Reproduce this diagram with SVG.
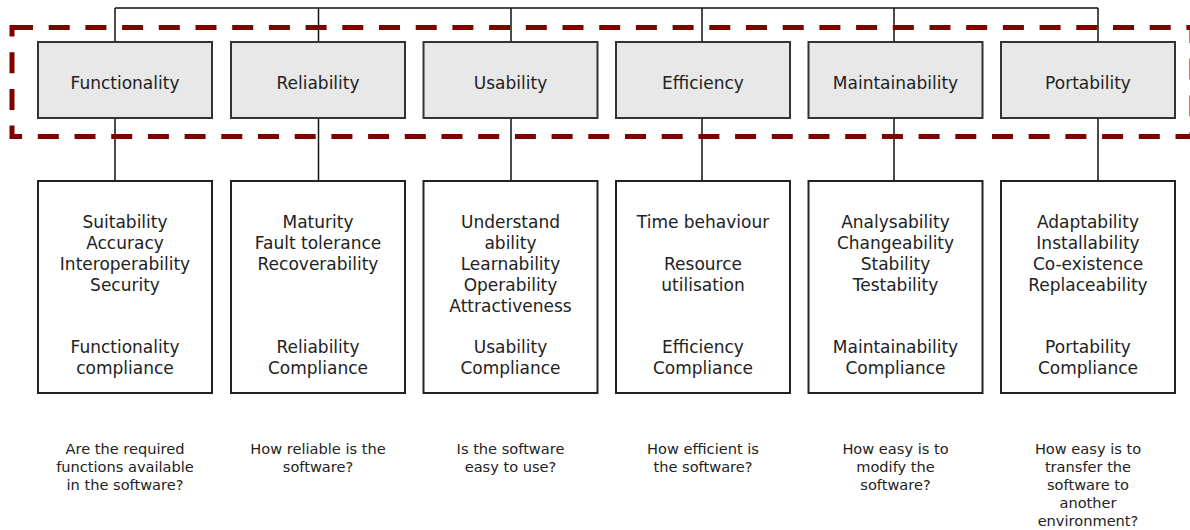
<svg xmlns="http://www.w3.org/2000/svg" width="1190" height="530" viewBox="0 0 1190 530">
<style>
.conn{stroke:#111;stroke-width:1.5;fill:none}
.top{fill:#e8e8e8;stroke:#333;stroke-width:2}
.box{fill:#fff;stroke:#222;stroke-width:2}
.t{font-family:"DejaVu Sans",Verdana,sans-serif;font-size:17px;fill:#222;text-anchor:middle}
.q{font-family:"DejaVu Sans",Verdana,sans-serif;font-size:14.6px;fill:#222;text-anchor:middle}
.dash{fill:none;stroke:#800000;stroke-width:5;stroke-dasharray:21 15.7}
</style>
<rect width="1190" height="530" fill="#fff"/>
<g id="connectors">
<path class="conn" d="M115,8H1098M115,8V181M318.5,8V181M511,8V181M702,8V181M894,8V181M1098,8V181"/>
</g>
<g id="functionality">
<rect class="top" x="38" y="42" width="174" height="76"/>
<text class="t" x="125" y="89">Functionality</text>
<rect class="box" x="38" y="181" width="174" height="212"/>
<text class="t" x="125" y="228">Suitability</text>
<text class="t" x="125" y="249">Accuracy</text>
<text class="t" x="125" y="270">Interoperability</text>
<text class="t" x="125" y="291">Security</text>
<text class="t" x="125" y="353">Functionality</text>
<text class="t" x="125" y="374">compliance</text>
<text class="q" x="125" y="454">Are the required</text>
<text class="q" x="125" y="472">functions available</text>
<text class="q" x="125" y="490">in the software?</text>
</g>
<g id="reliability">
<rect class="top" x="231" y="42" width="174" height="76"/>
<text class="t" x="318" y="89">Reliability</text>
<rect class="box" x="231" y="181" width="174" height="212"/>
<text class="t" x="318" y="228">Maturity</text>
<text class="t" x="318" y="249">Fault tolerance</text>
<text class="t" x="318" y="270">Recoverability</text>
<text class="t" x="318" y="353">Reliability</text>
<text class="t" x="318" y="374">Compliance</text>
<text class="q" x="318" y="454">How reliable is the</text>
<text class="q" x="318" y="472">software?</text>
</g>
<g id="usability">
<rect class="top" x="423.5" y="42" width="174" height="76"/>
<text class="t" x="510.5" y="89">Usability</text>
<rect class="box" x="423.5" y="181" width="174" height="212"/>
<text class="t" x="510.5" y="228">Understand</text>
<text class="t" x="510.5" y="249">ability</text>
<text class="t" x="510.5" y="270">Learnability</text>
<text class="t" x="510.5" y="291">Operability</text>
<text class="t" x="510.5" y="312">Attractiveness</text>
<text class="t" x="510.5" y="353">Usability</text>
<text class="t" x="510.5" y="374">Compliance</text>
<text class="q" x="510.5" y="454">Is the software</text>
<text class="q" x="510.5" y="472">easy to use?</text>
</g>
<g id="efficiency">
<rect class="top" x="616" y="42" width="174" height="76"/>
<text class="t" x="703" y="89">Efficiency</text>
<rect class="box" x="616" y="181" width="174" height="212"/>
<text class="t" x="703" y="228">Time behaviour</text>
<text class="t" x="703" y="270">Resource</text>
<text class="t" x="703" y="291">utilisation</text>
<text class="t" x="703" y="353">Efficiency</text>
<text class="t" x="703" y="374">Compliance</text>
<text class="q" x="703" y="454">How efficient is</text>
<text class="q" x="703" y="472">the software?</text>
</g>
<g id="maintainability">
<rect class="top" x="808.5" y="42" width="174" height="76"/>
<text class="t" x="895.5" y="89">Maintainability</text>
<rect class="box" x="808.5" y="181" width="174" height="212"/>
<text class="t" x="895.5" y="228">Analysability</text>
<text class="t" x="895.5" y="249">Changeability</text>
<text class="t" x="895.5" y="270">Stability</text>
<text class="t" x="895.5" y="291">Testability</text>
<text class="t" x="895.5" y="353">Maintainability</text>
<text class="t" x="895.5" y="374">Compliance</text>
<text class="q" x="895.5" y="454">How easy is to</text>
<text class="q" x="895.5" y="472">modify the</text>
<text class="q" x="895.5" y="490">software?</text>
</g>
<g id="portability">
<rect class="top" x="1001" y="42" width="174" height="76"/>
<text class="t" x="1088" y="89">Portability</text>
<rect class="box" x="1001" y="181" width="174" height="212"/>
<text class="t" x="1088" y="228">Adaptability</text>
<text class="t" x="1088" y="249">Installability</text>
<text class="t" x="1088" y="270">Co-existence</text>
<text class="t" x="1088" y="291">Replaceability</text>
<text class="t" x="1088" y="353">Portability</text>
<text class="t" x="1088" y="374">Compliance</text>
<text class="q" x="1088" y="454">How easy is to</text>
<text class="q" x="1088" y="472">transfer the</text>
<text class="q" x="1088" y="490">software to</text>
<text class="q" x="1088" y="508">another</text>
<text class="q" x="1088" y="526">environment?</text>
</g>
<g id="highlight">
<rect class="dash" x="12" y="27.5" width="1180" height="109"/>
</g>
</svg>
